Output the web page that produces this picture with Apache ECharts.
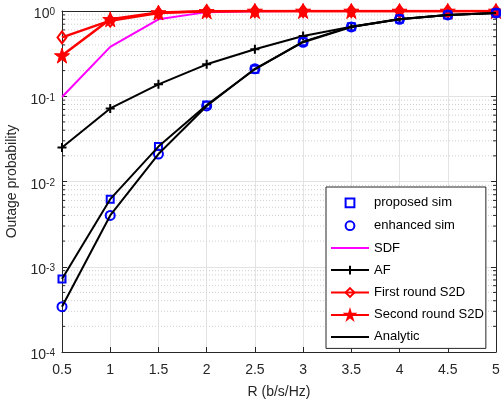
<!DOCTYPE html>
<html>
<head>
<meta charset="utf-8">
<script src="https://cdn.jsdelivr.net/npm/echarts@6/dist/echarts.min.js"></script>
<style>
  html, body { margin: 0; padding: 0; background: #fff; }
  #chart { width: 501px; height: 405px; }
</style>
</head>
<body>
<div id="chart"></div>
<script>
// Transmission rate R (b/s/Hz)
const rates = [0.5, 1, 1.5, 2, 2.5, 3, 3.5, 4, 4.5, 5];

// Outage probability per scheme
const proposedSim = [0.00072, 0.0062, 0.0257, 0.079, 0.207, 0.437, 0.655, 0.806, 0.90, 0.95];
const enhancedSim = [0.00034, 0.0040, 0.021, 0.077, 0.210, 0.430, 0.650, 0.800, 0.90, 0.95];
const sdf = [0.098, 0.38, 0.80, 0.97, 0.995, 1, 1, 1, 1, 1];
const af = [0.025, 0.072, 0.138, 0.237, 0.356, 0.51, 0.655, 0.80, 0.90, 0.95];
const firstRoundS2D = [0.49, 0.77, 0.95, 0.99, 1, 1, 1, 1, 1, 1];
const secondRoundS2D = [0.30, 0.80, 0.96, 0.99, 1, 1, 1, 1, 1, 1];
const analyticProposed = [0.00072, 0.0062, 0.0257, 0.079, 0.207, 0.437, 0.655, 0.806, 0.90, 0.95];
const analyticEnhanced = [0.00034, 0.0040, 0.021, 0.077, 0.210, 0.430, 0.650, 0.800, 0.90, 0.95];

// Minor log gridline values (2..9 within each decade)
const minorValues = [];
[-4, -3, -2, -1].forEach(function (d) {
  for (let k = 2; k <= 9; k++) minorValues.push(k * Math.pow(10, d));
});

const pair = arr => rates.map((r, i) => [r, arr[i]]);

const axisColor = '#262626';
const font = 'Liberation Sans, Arial, sans-serif';
const starPath = 'path://M50,0 L61.2,34.5 L97.6,34.5 L68.2,55.9 L79.4,90.5 L50,69.1 L20.6,90.5 L31.8,55.9 L2.4,34.5 L38.8,34.5 Z';
const plusPath = 'path://M5,0 L5,10 M0,5 L10,5';

// legend entries; line-only entries hide the default legend dot
const legendOrder = [
  { name: 'proposed sim' },
  { name: 'enhanced sim' },
  { name: 'SDF', itemStyle: { opacity: 0 } },
  { name: 'AF' },
  { name: 'First round S2D' },
  { name: 'Second round S2D' },
  { name: 'Analytic', itemStyle: { opacity: 0 } }
];

const chart = echarts.init(document.getElementById('chart'));

chart.setOption({
  animation: false,
  backgroundColor: '#fff',
  grid: { left: 62, right: 5, top: 11, bottom: 53, containLabel: false, outerBoundsMode: 'none' },
  legend: {
    data: legendOrder,
    orient: 'vertical',
    left: 326,
    top: 187,
    itemWidth: 38,
    itemHeight: 11,
    itemGap: 9,
    padding: [9, 2, 5, 4],
    backgroundColor: '#fff',
    borderColor: axisColor,
    borderWidth: 1,
    borderRadius: 0,
    textStyle: { fontFamily: font, fontSize: 13, color: '#000' }
  },
  xAxis: [{
    type: 'value',
    min: 0.5, max: 5, interval: 0.5,
    name: 'R (b/s/Hz)',
    nameLocation: 'middle',
    nameGap: 33,
    nameTextStyle: { fontFamily: font, fontSize: 14, color: axisColor },
    axisLine: { onZero: false, lineStyle: { color: axisColor, width: 1 } },
    axisTick: { inside: true, length: 5, lineStyle: { color: axisColor } },
    axisLabel: { fontFamily: font, fontSize: 14, color: axisColor, margin: 11 },
    splitLine: { show: true, lineStyle: { color: '#e3e3e3', width: 1 } }
  }, {
    type: 'value', position: 'top',
    min: 0.5, max: 5, interval: 0.5,
    axisLine: { onZero: false, lineStyle: { color: axisColor, width: 1 } },
    axisTick: { inside: true, length: 5, lineStyle: { color: axisColor } },
    axisLabel: { show: false },
    splitLine: { show: false }
  }],
  yAxis: [{
    type: 'log', logBase: 10,
    min: 1e-4, max: 1,
    name: 'Outage probability',
    nameLocation: 'middle',
    nameGap: 40,
    nameTextStyle: { fontFamily: font, fontSize: 14, color: axisColor },
    axisLine: { onZero: false, lineStyle: { color: axisColor, width: 1 } },
    axisTick: { inside: true, length: 5, lineStyle: { color: axisColor } },
    axisLabel: {
      margin: 7,
      padding: [7, 0, 0, 0],
      formatter: function (v) {
        const e = Math.round(Math.log10(v));
        return '{b|10}{s|' + e + '}';
      },
      rich: {
        b: { fontFamily: font, fontSize: 14, color: axisColor, lineHeight: 14, verticalAlign: 'bottom' },
        s: { fontFamily: font, fontSize: 10, color: axisColor, lineHeight: 4, verticalAlign: 'top' }
      }
    },
    splitLine: { show: true, lineStyle: { color: '#e3e3e3', width: 1 } }
  }, {
    type: 'log', logBase: 10, position: 'right',
    min: 1e-4, max: 1,
    axisLine: { onZero: false, lineStyle: { color: axisColor, width: 1 } },
    axisTick: { inside: true, length: 5, lineStyle: { color: axisColor } },
    axisLabel: { show: false },
    splitLine: { show: false }
  }],
  series: [
    {
      // minor gridlines and minor ticks on the log axis
      type: 'custom',
      silent: true,
      z: 0,
      data: minorValues.map(v => [0.5, v]),
      renderItem: function (params, api) {
        const v = api.value(1);
        const l = api.coord([0.5, v]);
        const r = api.coord([5, v]);
        return {
          type: 'group',
          children: [
            { type: 'line', shape: { x1: l[0], y1: l[1], x2: r[0], y2: r[1] },
              style: { stroke: '#cfcfcf', lineWidth: 1, lineDash: [1, 2] } },
            { type: 'line', shape: { x1: l[0], y1: l[1], x2: l[0] + 3, y2: l[1] },
              style: { stroke: axisColor, lineWidth: 1 } },
            { type: 'line', shape: { x1: r[0] - 3, y1: r[1], x2: r[0], y2: r[1] },
              style: { stroke: axisColor, lineWidth: 1 } }
          ]
        };
      }
    },
    {
      name: 'proposed sim', type: 'line', data: pair(proposedSim), z: 3,
      symbol: 'rect', symbolSize: 7, showAllSymbol: true,
      lineStyle: { width: 0, opacity: 0 },
      itemStyle: { color: 'none', borderColor: '#0000ff', borderWidth: 2 }
    },
    {
      name: 'enhanced sim', type: 'line', data: pair(enhancedSim), z: 3,
      symbol: 'circle', symbolSize: 9, showAllSymbol: true,
      lineStyle: { width: 0, opacity: 0 },
      itemStyle: { color: 'none', borderColor: '#0000ff', borderWidth: 2 }
    },
    {
      name: 'SDF', type: 'line', data: pair(sdf), z: 2,
      symbol: 'none',
      lineStyle: { color: '#ff00ff', width: 2 },
      itemStyle: { color: '#ff00ff' }
    },
    {
      name: 'AF', type: 'line', data: pair(af), z: 2,
      symbol: plusPath, symbolSize: 9, showAllSymbol: true,
      lineStyle: { color: '#000', width: 2 },
      itemStyle: { color: '#000', borderColor: '#000', borderWidth: 2 }
    },
    {
      name: 'First round S2D', type: 'line', data: pair(firstRoundS2D), z: 2,
      symbol: 'diamond', symbolSize: [9, 12], showAllSymbol: true,
      lineStyle: { color: '#ff0000', width: 2.5 },
      itemStyle: { color: 'none', borderColor: '#ff0000', borderWidth: 2 }
    },
    {
      name: 'Second round S2D', type: 'line', data: pair(secondRoundS2D), z: 2,
      symbol: starPath, symbolSize: 15, showAllSymbol: true,
      lineStyle: { color: '#ff0000', width: 2.5 },
      itemStyle: { color: '#ff0000', borderColor: '#ff0000', borderWidth: 1 }
    },
    {
      name: 'Analytic', type: 'line', data: pair(analyticProposed), z: 4,
      symbol: 'none',
      lineStyle: { color: '#000', width: 2 },
      itemStyle: { color: '#000' }
    },
    {
      name: 'Analytic', type: 'line', data: pair(analyticEnhanced), z: 4,
      symbol: 'none',
      lineStyle: { color: '#000', width: 2 },
      itemStyle: { color: '#000' }
    }
  ]
});
</script>
</body>
</html>
